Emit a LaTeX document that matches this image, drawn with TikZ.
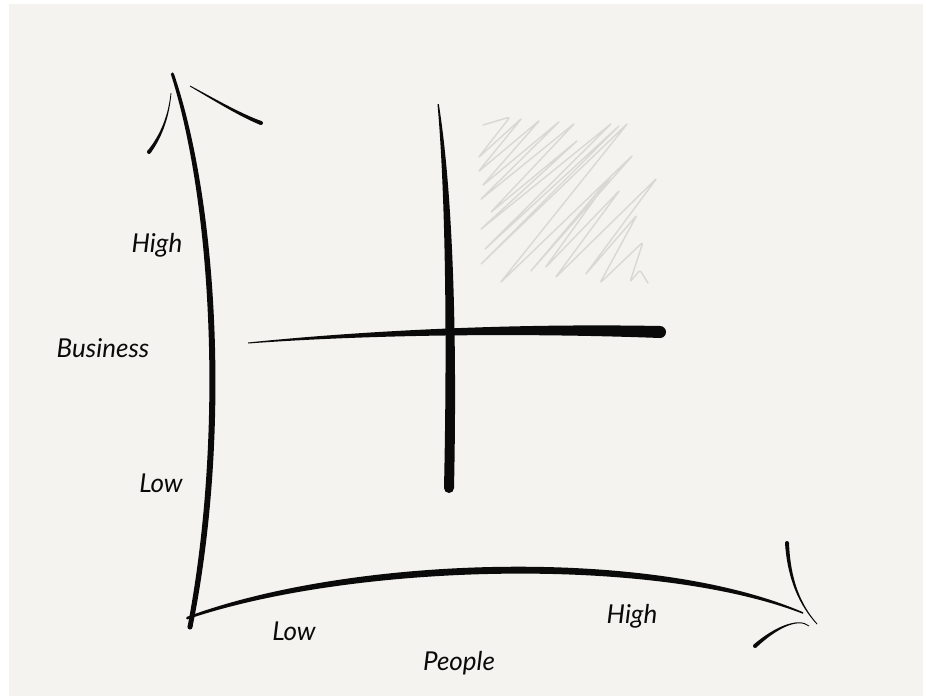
\documentclass[tikz,border=0pt]{standalone}
\usepackage{fontspec}
\setmainfont{Lato}
\definecolor{paper}{HTML}{F4F3EF}
\definecolor{ink}{HTML}{0A0A0A}
\definecolor{scribble}{HTML}{D9D8D5}
\tikzset{
  lbl/.style={font=\itshape\fontsize{26}{30}\selectfont, text=ink, inner sep=0pt},
  inkfill/.style={fill=ink, draw=none},
}
\begin{document}
\begin{tikzpicture}[x=1pt,y=-1pt]
\useasboundingbox (0,0) rectangle (926,696);
\fill[white] (0,0) rectangle (926,696);
\fill[paper] (9,4) rectangle (923,696);

% named points
\coordinate (vtop) at (172,74);
\coordinate (vbot) at (190,627);
\coordinate (hstart) at (187,618);
\coordinate (hend) at (803,613);

% vertical axis (tapered)
\fill[inkfill] (170.8,74) .. controls (211,200) and (225,430) .. (187.5,627)
   -- (192.5,627) .. controls (232,430) and (217,200) .. (174,74) -- cycle;
\fill[ink] (190,627) circle (2.5);
\fill[ink] (172.4,74) circle (1.6);

% top arrowhead strokes (tapered fills)
\fill[inkfill] (147.1,151.3) .. controls (160.9,134.6) and (168.5,114.7) .. (170.6,93)
   -- (171.4,93) .. controls (169.5,115.3) and (163.1,135.4) .. (150.9,152.7) -- cycle;
\fill[ink] (149,152) circle (2);
\fill[inkfill] (190.2,85.6) .. controls (215.5,99.1) and (240.7,113.7) .. (261.9,121.2)
   -- (260.1,124.8) .. controls (239.3,116.3) and (214.5,100.9) .. (189.8,86.4) -- cycle;
\fill[ink] (261,123) circle (2);

% horizontal axis (tapered)
\fill[inkfill] (187,616.8) .. controls (350,556) and (650,546) .. (803,612.2)
   -- (803,613.8) .. controls (650,555) and (350,564) .. (187,619.4) -- cycle;
\fill[ink] (187.3,618.1) circle (1.3);

% right arrowhead strokes (tapered fills)
\fill[inkfill] (789,543) .. controls (790.5,580) and (800.5,604.5) .. (817.3,623.7)
   -- (816.7,624.3) .. controls (799.5,605.5) and (787.5,580) .. (785,543) -- cycle;
\fill[ink] (787,543) circle (2);
\fill[inkfill] (753.7,644.5) .. controls (774.1,627) and (798.4,616.5) .. (809.3,625.7)
   -- (808.7,626.3) .. controls (797.6,617.5) and (775.9,629) .. (756.3,647.5) -- cycle;
\fill[ink] (755,646) circle (2);

% scribble (shaded quadrant)
\draw[scribble, line width=1.4, rounded corners=2.5pt, line cap=round, line join=round]
  (483,125) -- (510,117) -- (478,158) -- (522,118) -- (478,172) -- (540,120)
  -- (482,186) -- (560,121) -- (480,200) -- (575,123) -- (490,213) -- (578,140)
  -- (480,230) -- (612,123) -- (484,250) -- (620,125) -- (480,265) -- (628,123)
  -- (500,283) -- (633,155) -- (530,272) -- (612,175) -- (545,268) -- (620,190)
  -- (555,278) -- (657,178) -- (585,275) -- (637,215) -- (600,283) -- (643,242)
  -- (630,282) -- (640,270) -- (648,283);

% cross: horizontal bar
\fill[inkfill] (248,342.5) .. controls (350,332) and (500,323) .. (660,326)
   -- (660,338) .. controls (500,332) and (350,336) .. (248,343.5) -- cycle;
\fill[ink] (660,332) circle (6);
% cross: vertical bar
\fill[inkfill] (437.5,104) .. controls (446,200) and (447,350) .. (444,488)
   -- (454,488) .. controls (457,350) and (454,200) .. (438.8,104) -- cycle;
\fill[ink] (449,488) circle (5);

% labels
\node[lbl] (yhigh) at (157,245) {High};
\node[lbl] (ytitle) at (103,348) {Business};
\node[lbl] (ylow) at (161,483) {Low};
\node[lbl] (xlow) at (294,631) {Low};
\node[lbl] (xhigh) at (632,616) {High};
\node[lbl] (xtitle) at (459,663) {People};
\end{tikzpicture}
\end{document}
